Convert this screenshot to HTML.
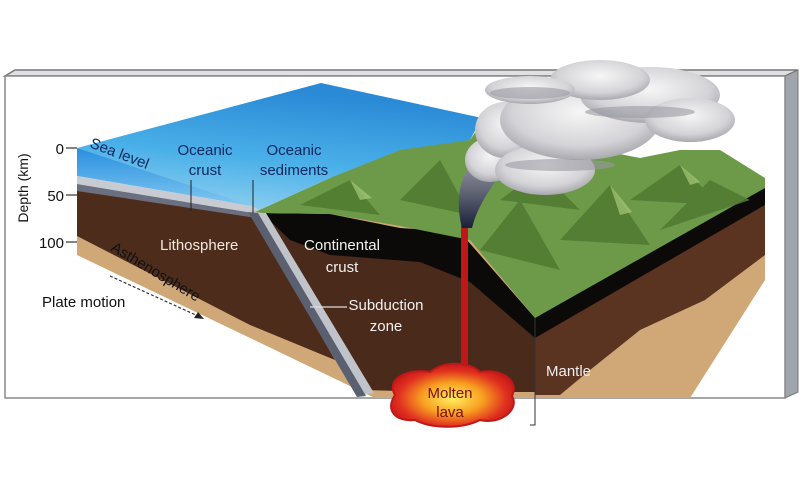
<!DOCTYPE html>
<html><head><meta charset="utf-8"><style>
html,body{margin:0;padding:0;background:#fff;width:800px;height:480px;overflow:hidden}
svg{display:block}
text{font-family:"Liberation Sans",sans-serif}
</style></head><body>
<svg width="800" height="480" viewBox="0 0 800 480">
<defs>
<linearGradient id="water" x1="0" y1="1" x2="0.3" y2="0">
<stop offset="0" stop-color="#a0d8f2"/><stop offset="0.5" stop-color="#4ab0e8"/><stop offset="1" stop-color="#2a8ad6"/></linearGradient>
<linearGradient id="wfront" x1="0" y1="0" x2="0" y2="1">
<stop offset="0" stop-color="#2a8fe0"/><stop offset="1" stop-color="#80c8f0"/></linearGradient>
<radialGradient id="lava" cx="0.5" cy="0.55" r="0.55">
<stop offset="0" stop-color="#fff060"/><stop offset="0.45" stop-color="#f8a020"/><stop offset="0.8" stop-color="#e03020"/><stop offset="1" stop-color="#c81818"/></radialGradient>
<radialGradient id="cloud" cx="0.5" cy="0.4" r="0.6">
<stop offset="0" stop-color="#f6f6f6"/><stop offset="0.7" stop-color="#d4d4d8"/><stop offset="1" stop-color="#a8a8ae"/></radialGradient>
<linearGradient id="plume" x1="0" y1="1" x2="0" y2="0">
<stop offset="0" stop-color="#1a1f3a"/><stop offset="0.4" stop-color="#5a5f70"/><stop offset="1" stop-color="#b0b0b6"/></linearGradient>
</defs>
<!-- frame -->
<polygon points="5,76 15,70 798,70 785,76" fill="#e0e0e4" stroke="#777" stroke-width="1.5"/>
<polygon points="785,76 798,70 798,392 785,398" fill="#a0a4ac" stroke="#777" stroke-width="1"/>
<rect x="5" y="76" width="780" height="322" fill="#fff" stroke="#888" stroke-width="1.5"/>
<!-- tan base -->
<polygon points="77,232 77,255 375,398 690,398 765,280 765,190 300,212" fill="#d0a878"/>
<!-- right face brown -->
<polygon points="535,318 765,190 765,255 705,300 640,330 590,370 560,395 535,395" fill="#5a3420"/>
<!-- left lithosphere -->
<polygon points="77,188 250,212 335,360 250,325 77,236" fill="#4e2c1c"/>
<!-- mid brown -->
<polygon points="265,213 360,390 440,392 535,392 535,318 460,240" fill="#4a2a1a"/>
<!-- black continental crust -->
<polygon points="262,213 330,214 400,228 460,232 535,318 765,182 765,205 535,338 470,282 420,262 330,255 290,240" fill="#0c0a08"/>
<!-- water top -->
<polygon points="77,148 321,83 482,118 470,140 330,178 255,212" fill="url(#water)"/>
<!-- water front -->
<polygon points="77,148 252,206 77,176" fill="url(#wfront)"/>
<!-- oceanic crust -->
<polygon points="77,176 252,206 265,213 252,213 77,184" fill="#c8ccd2"/>
<polygon points="77,184 252,213 265,216 250,217 77,191" fill="#6a7080"/>
<!-- slab -->
<polygon points="250,210 266,213 374,393 357,396" fill="#c0c4ca"/>
<polygon points="248,212 258,213 366,396 357,397" fill="#5a6070"/>
<!-- green land -->
<polygon points="255,212 330,178 400,150 470,140 482,122 520,140 560,165 600,150 640,158 680,150 720,150 765,178 765,188 535,318 470,240 400,226 330,214 263,213" fill="#6d9a48"/>
<g fill="#4f7a30" opacity="0.85">
<polygon points="300,205 350,180 380,215"/>
<polygon points="400,200 440,160 470,215"/>
<polygon points="480,250 520,200 560,270"/>
<polygon points="560,240 610,185 650,245"/>
<polygon points="630,200 680,165 720,205"/>
<polygon points="500,200 540,170 580,210"/>
<polygon points="660,230 710,180 750,200"/>
</g>
<g fill="#a8c878" opacity="0.7">
<polygon points="350,180 360,200 372,198"/>
<polygon points="610,185 620,215 632,212"/>
<polygon points="680,165 690,185 700,182"/>
</g>
<!-- lava -->
<rect x="461" y="225" width="7" height="150" fill="#c01818"/>
<path d="M395,395 C385,378 410,368 430,372 C445,360 470,362 480,372 C500,368 520,380 512,396 C520,410 500,425 480,420 C460,430 430,428 415,420 C395,422 385,410 395,395 Z" fill="url(#lava)" stroke="#c01818" stroke-width="2"/>
<!-- plume -->
<path d="M462,228 C455,200 460,180 470,165 C480,150 500,140 510,150 C505,175 480,195 472,228 Z" fill="url(#plume)"/>
<g fill="url(#cloud)">
<ellipse cx="490" cy="160" rx="25" ry="22"/>
<ellipse cx="505" cy="130" rx="30" ry="28"/>
<ellipse cx="545" cy="170" rx="50" ry="25"/>
<ellipse cx="580" cy="120" rx="80" ry="40"/>
<ellipse cx="650" cy="95" rx="70" ry="28"/>
<ellipse cx="600" cy="80" rx="50" ry="20"/>
<ellipse cx="690" cy="120" rx="45" ry="22"/>
<ellipse cx="530" cy="90" rx="45" ry="14"/>
</g>
<g fill="#9a9aa2" opacity="0.6">
<ellipse cx="530" cy="93" rx="40" ry="6"/>
<ellipse cx="640" cy="112" rx="55" ry="6"/>
<ellipse cx="560" cy="165" rx="55" ry="6"/>
</g>
<!-- depth axis -->
<g stroke="#333" stroke-width="1.2">
<line x1="66" y1="148" x2="77" y2="148"/><line x1="66" y1="195" x2="77" y2="195"/><line x1="66" y1="242" x2="77" y2="242"/>
</g>
<g font-size="15" fill="#111" text-anchor="end">
<text x="64" y="154">0</text><text x="64" y="201">50</text><text x="64" y="248">100</text>
</g>
<text transform="translate(28,188) rotate(-90)" font-size="14" text-anchor="middle" fill="#111">Depth (km)</text>
<text transform="translate(89,147) rotate(21)" font-size="15" fill="#0f2860">Sea level</text>
<g font-size="15" fill="#0f2860" text-anchor="middle">
<text x="205" y="155">Oceanic</text><text x="205" y="175">crust</text>
<text x="294" y="155">Oceanic</text><text x="294" y="175">sediments</text>
</g>
<g stroke="#222" stroke-width="1"><line x1="191" y1="180" x2="191" y2="211"/><line x1="253" y1="180" x2="253" y2="213"/></g>
<text x="160" y="250" font-size="15" fill="#f2e8e0">Lithosphere</text>
<text transform="translate(110,250) rotate(31)" font-size="15" fill="#111">Asthenosphere</text>
<text x="42" y="307" font-size="15" fill="#111">Plate motion</text>
<line x1="110" y1="276" x2="198" y2="316" stroke="#333" stroke-width="1.2" stroke-dasharray="3,2"/>
<polygon points="204,319 194,318 198,312" fill="#222"/>
<g font-size="15" fill="#f2f2f2" text-anchor="middle">
<text x="342" y="250">Continental</text><text x="342" y="272">crust</text>
<text x="386" y="310">Subduction</text><text x="386" y="331">zone</text>
</g>
<line x1="310" y1="307" x2="347" y2="307" stroke="#ddd" stroke-width="1.2"/>
<polyline points="535,318 535,425 530,425" fill="none" stroke="#333" stroke-width="1"/>
<text x="546" y="376" font-size="15" fill="#eee">Mantle</text>
<g font-size="15" fill="#7a1010" text-anchor="middle">
<text x="450" y="398">Molten</text><text x="450" y="417">lava</text>
</g>
</svg>
</body></html>
